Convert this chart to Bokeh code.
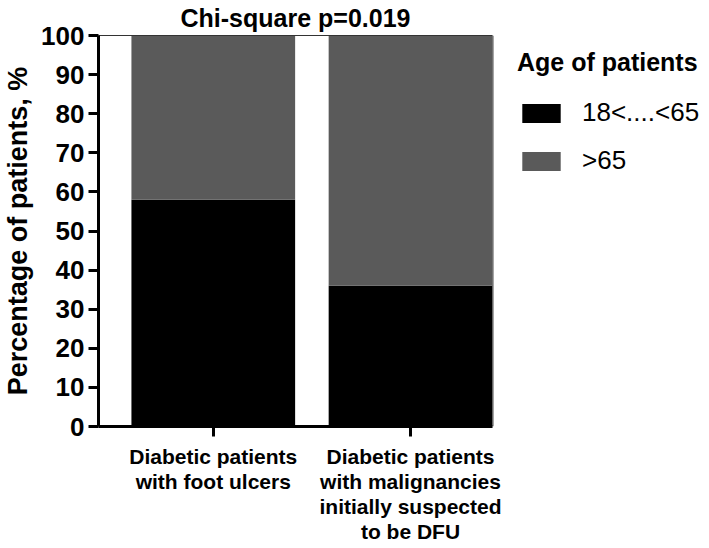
from bokeh.plotting import figure
from bokeh.models import (Range1d, FixedTicker, Legend, LegendItem, ColumnDataSource,
                          LinearAxis, Span)
from bokeh.embed import file_html
from bokeh.resources import INLINE

# ---- data ----
categories = ["Diabetic patients\nwith foot ulcers",
              "Diabetic patients\nwith malignancies\ninitially suspected\nto be DFU"]
age_18_65 = [58, 36]
age_over_65 = [42, 64]
series_names = ["18<....<65", ">65"]
y_ticks = [0, 10, 20, 30, 40, 50, 60, 70, 80, 90, 100]

FONT = "Liberation Sans"
x_pos = list(range(len(categories)))

# plotting-area extent (in bar units); extra room on the right holds the legend
x_left, x_right, x_canvas_end = -0.582, 1.418, 2.516

src = ColumnDataSource(dict(x=x_pos, young=age_18_65, old=age_over_65))

p = figure(width=709, height=548, output_backend="svg", toolbar_location=None,
           x_range=Range1d(x_left, x_canvas_end), y_range=Range1d(0, 100),
           min_border_left=97, min_border_right=0, min_border_top=35, min_border_bottom=122)

p.title.text = "Chi-square p=0.019"
p.title.align = "left"
p.title.text_font = FONT
p.title.text_font_size = "25px"
p.title.text_font_style = "bold"
p.title.text_color = "black"
p.title.standoff = 4
p.title.offset = 82
p.title.vertical_align = "top"

renderers = p.vbar_stack(["young", "old"], x="x", width=0.83, source=src,
                         color=["#000000", "#5a5a5a"], line_width=0)

p.xgrid.visible = False
p.ygrid.visible = False
p.outline_line_color = None

# x axis (bottom)
xa = p.below[0]
xa.bounds = (x_left, x_right)
xa.ticker = FixedTicker(ticks=x_pos)
xa.major_label_overrides = {i: c for i, c in zip(x_pos, categories)}
xa.major_label_text_font = FONT
xa.major_label_text_font_size = "21px"
xa.major_label_text_font_style = "bold"
xa.major_label_text_color = "black"
xa.major_label_text_line_height = 1.1
xa.major_label_standoff = 8
xa.axis_line_width = 3
xa.axis_line_color = "black"
xa.major_tick_line_width = 3
xa.major_tick_line_color = "black"
xa.major_tick_out = 10
xa.major_tick_in = 0
xa.minor_tick_line_color = None

# y axis
ya = p.left[0]
ya.ticker = FixedTicker(ticks=y_ticks)
ya.axis_label = "Percentage of patients, %"
ya.axis_label_text_font = FONT
ya.axis_label_text_font_size = "27px"
ya.axis_label_text_font_style = "bold"
ya.axis_label_text_color = "black"
ya.axis_label_standoff = 5
ya.major_label_text_font = FONT
ya.major_label_text_font_size = "26px"
ya.major_label_text_font_style = "bold"
ya.major_label_text_color = "black"
ya.major_label_standoff = 4
ya.axis_line_width = 3
ya.axis_line_color = "black"
ya.major_tick_line_width = 3
ya.major_tick_line_color = "black"
ya.major_tick_out = 10
ya.major_tick_in = 0
ya.minor_tick_line_color = None

# thin top and right border of the plotting area
top_axis = LinearAxis(bounds=(x_left, x_right), ticker=FixedTicker(ticks=[]),
                      major_tick_line_color=None, minor_tick_line_color=None,
                      major_label_text_font_size="0px",
                      axis_line_color="#333333", axis_line_width=1)
p.add_layout(top_axis, "above")
p.add_layout(Span(location=x_right, dimension="height", line_color="#333333", line_width=1))

legend = Legend(items=[LegendItem(label=n, renderers=[r]) for n, r in zip(series_names, renderers)],
                location=(419, 250))
legend.title = "Age of patients"
legend.title_text_font = FONT
legend.title_text_font_size = "25px"
legend.title_text_font_style = "bold"
legend.title_text_color = "black"
legend.title_standoff = 20
legend.label_text_font = FONT
legend.label_text_font_size = "26px"
legend.label_text_color = "black"
legend.glyph_width = 48
legend.glyph_height = 24
legend.label_standoff = 17
legend.spacing = 17
legend.padding = 0
legend.margin = 0
legend.border_line_color = None
legend.background_fill_alpha = 0
p.add_layout(legend)

open("out.html", "w").write(file_html(p, INLINE))
